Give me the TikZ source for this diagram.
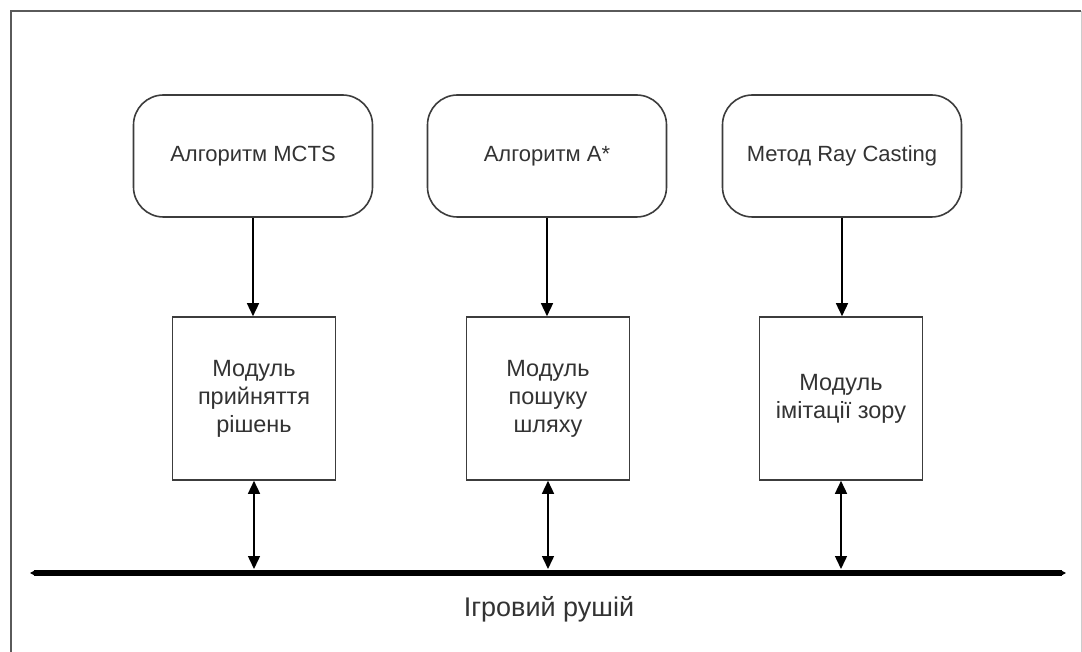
\documentclass[tikz,border=0pt]{standalone}
\usepackage{fontspec}
\setmainfont{Liberation Sans}
\usetikzlibrary{arrows.meta}
\definecolor{txt}{HTML}{333333}
\definecolor{edge}{HTML}{3C3C3C}
\definecolor{frame}{HTML}{5A5A5A}
\begin{document}
\begin{tikzpicture}[x=1pt,y=-1pt,
  algbox/.style={draw=edge,line width=1.6pt,rounded corners=30pt,minimum width=239pt,minimum height=122pt,inner sep=0pt,text=txt,font=\fontsize{22}{26}\selectfont},
  modbox/.style={draw=edge,line width=1.6pt,minimum width=163pt,minimum height=163pt,inner sep=0pt,align=center,text=txt,font=\fontsize{23.5}{28}\selectfont},
  flow/.style={draw=black,line width=1.5pt,-{Triangle[length=13pt,width=12pt]}},
  twoway/.style={draw=black,line width=1.5pt,{Triangle[length=13pt,width=12pt]}-{Triangle[length=13pt,width=12pt]}},
  busline/.style={draw=black,line width=6pt,{Triangle[length=4pt,width=4pt]}-{Triangle[length=4pt,width=4pt]}}
]
\useasboundingbox (0,0) rectangle (1082,652);
\fill[white] (0,0) rectangle (1082,652);
% frame
\draw[frame,line width=2pt] (10.5,652) -- (10.5,11.5) -- (1081,11.5);
\draw[black!20,line width=1pt] (1081,11.5) -- (1081,652);
% top boxes
\node[algbox] (r1) at (253,156) {Алгоритм MCTS};
\node[algbox] (r2) at (547,156) {Алгоритм A*};
\node[algbox] (r3) at (842,156) {Метод Ray Casting};
% modules
\node[modbox] (m1) at (254,398.5) {Модуль\\прийняття\\рішень};
\node[modbox] (m2) at (548,398.5) {Модуль\\пошуку\\шляху};
\node[modbox] (m3) at (841,398.5) {Модуль\\імітації зору};
% bus
\coordinate (busL) at (30,573);
\coordinate (busR) at (1066,573);
\draw[busline] (busL) -- (busR);
\node[text=txt,font=\fontsize{27}{30}\selectfont] (eng) at (549,609) {Ігровий рушій};
% arrows
\draw[flow] (r1.south) -- (r1.south |- m1.north);
\draw[flow] (r2.south) -- (r2.south |- m2.north);
\draw[flow] (r3.south) -- (r3.south |- m3.north);
\draw[twoway] (m1.south) -- (m1.south |- 0,569);
\draw[twoway] (m2.south) -- (m2.south |- 0,569);
\draw[twoway] (m3.south) -- (m3.south |- 0,569);
\end{tikzpicture}
\end{document}
